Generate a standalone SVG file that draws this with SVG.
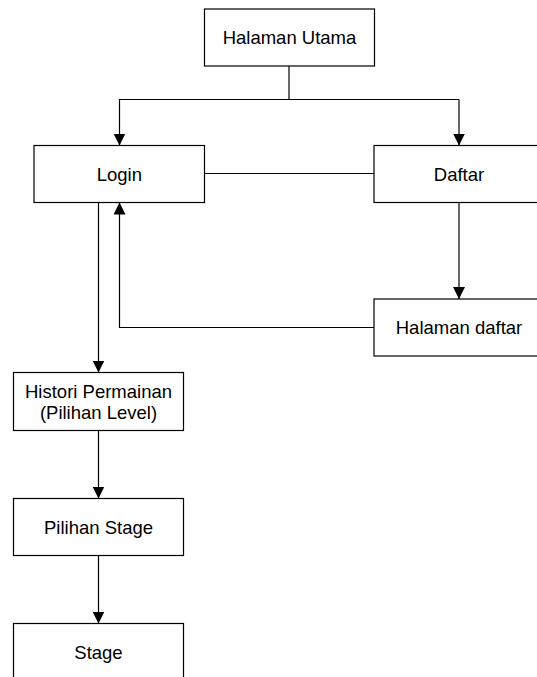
<svg xmlns="http://www.w3.org/2000/svg" width="537" height="677" viewBox="0 0 537 677">
<defs>
<style>
.box{fill:#fff;stroke:#000;stroke-width:1.2}
.lbl{font-family:"Liberation Sans",Arial,sans-serif;font-size:18.5px;fill:#000;text-anchor:middle}
.con{fill:none;stroke:#000;stroke-width:1.2}
</style>
<marker id="arr" viewBox="0 0 12 13" refX="12" refY="6" markerWidth="12" markerHeight="13" markerUnits="userSpaceOnUse" orient="auto">
<path d="M0,0 L13,6 L0,12 Z" fill="#000" transform="scale(0.923,1)"/>
</marker>
</defs>
<rect width="537" height="677" fill="#fff"/>
<g id="connectors">
<path class="con" d="M289,66 V99.5"/>
<path class="con" d="M119.5,99.5 H459 M459,99.5 V145.5" marker-end="url(#arr)"/>
<path class="con" d="M289,99.5 H119.5 V145.5" marker-end="url(#arr)"/>
<path class="con" d="M204.5,173.5 H374"/>
<path class="con" d="M459,202 V299" marker-end="url(#arr)"/>
<path class="con" d="M374,327.5 H119.5 V202.5" marker-end="url(#arr)"/>
<path class="con" d="M98.5,202.5 V372.5" marker-end="url(#arr)"/>
<path class="con" d="M98.5,430.5 V498.5" marker-end="url(#arr)"/>
<path class="con" d="M98.5,555.5 V623.5" marker-end="url(#arr)"/>
</g>
<g id="halaman-utama">
<rect class="box" x="204.5" y="9" width="170" height="57"/>
<text class="lbl" x="289.5" y="44.3">Halaman Utama</text>
</g>
<g id="login">
<rect class="box" x="34" y="145.5" width="170.5" height="57"/>
<text class="lbl" x="119.3" y="180.7">Login</text>
</g>
<g id="daftar">
<rect class="box" x="374" y="145.5" width="170" height="57"/>
<text class="lbl" x="459" y="180.7">Daftar</text>
</g>
<g id="halaman-daftar">
<rect class="box" x="374" y="299" width="170" height="57"/>
<text class="lbl" x="459" y="334.2">Halaman daftar</text>
</g>
<g id="histori">
<rect class="box" x="13.5" y="372.5" width="170" height="58"/>
<text class="lbl" x="98.5" y="397.5">Histori Permainan</text>
<text class="lbl" x="98.5" y="418.5">(Pilihan Level)</text>
</g>
<g id="pilihan-stage">
<rect class="box" x="13.5" y="498.5" width="170" height="57"/>
<text class="lbl" x="98.5" y="533.7">Pilihan Stage</text>
</g>
<g id="stage">
<rect class="box" x="13.5" y="623.5" width="170" height="57"/>
<text class="lbl" x="98.5" y="658.5">Stage</text>
</g>
</svg>
